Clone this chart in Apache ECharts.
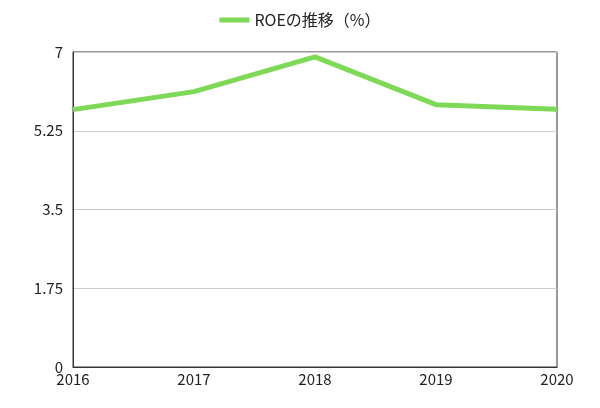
<!DOCTYPE html>
<html><head><meta charset="utf-8">
<script src="https://cdn.jsdelivr.net/npm/echarts@6/dist/echarts.min.js"></script>
<style>html,body{margin:0;padding:0;background:#fff}</style></head>
<body><div id="c" style="width:600px;height:408px"></div>
<script>
const categories = ['2016','2017','2018','2019','2020'];
const roe = [5.72, 6.12, 6.89, 5.83, 5.73];
const seriesName = 'ROEの推移（%）';
const chart = echarts.init(document.getElementById('c'));
chart.setOption({
  animation:false,
  textStyle:{fontFamily:'"Noto Sans CJK JP", sans-serif'},
  legend:{top:7,left:'center',itemWidth:30,itemHeight:5,icon:'rect',
    textStyle:{fontSize:16,color:'#222'},data:[seriesName]},
  grid:{left:73,right:43,top:52,bottom:41,show:true,borderColor:'#333',borderWidth:1},
  xAxis:{type:'category',data:categories,boundaryGap:false,
    axisLine:{lineStyle:{color:'#333'}},axisTick:{show:false},
    axisLabel:{color:'#222',fontSize:15,margin:5},splitLine:{show:false}},
  yAxis:{type:'value',min:0,max:7,interval:1.75,
    axisLine:{show:true,lineStyle:{color:'#333'}},axisTick:{show:false},
    axisLabel:{color:'#222',fontSize:15,margin:10},
    splitLine:{lineStyle:{color:'#ccc'}}},
  series:[{name:seriesName,type:'line',data:roe,symbol:'none',
    lineStyle:{color:'#7ed957',width:5},itemStyle:{color:'#7ed957'}}]
});
</script></body></html>
